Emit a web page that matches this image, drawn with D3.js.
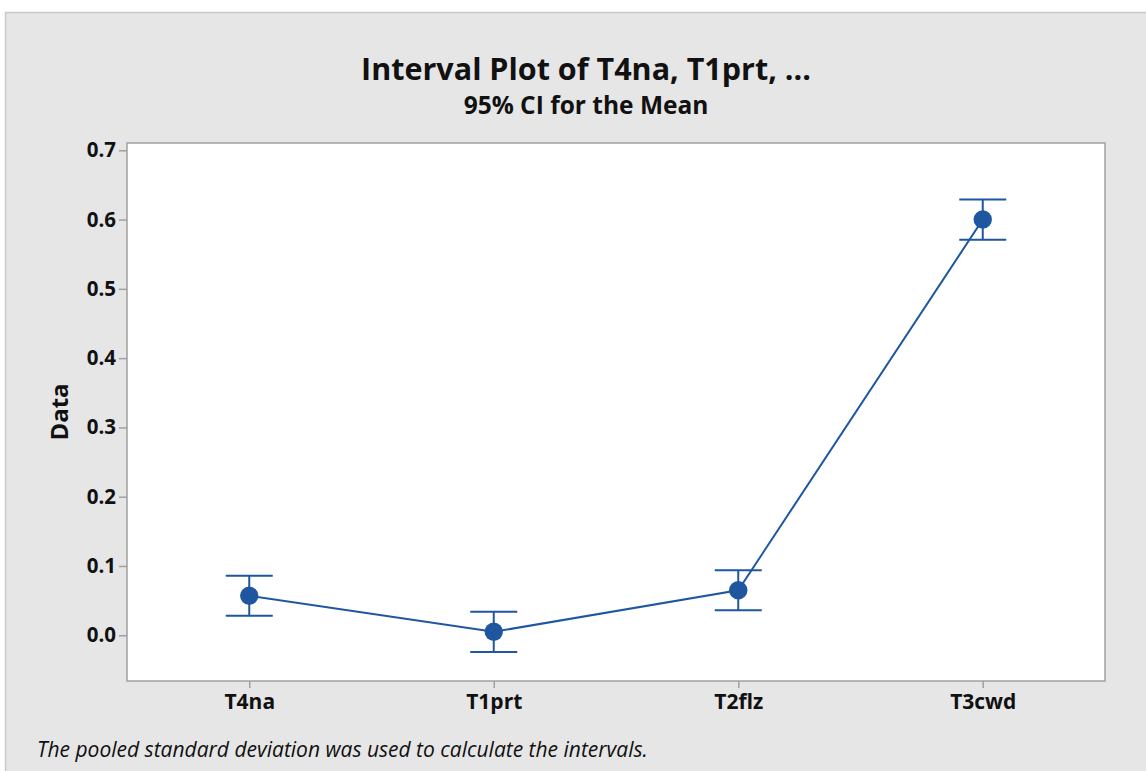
<!DOCTYPE html>
<html><head><meta charset="utf-8">
<script src="https://cdn.jsdelivr.net/npm/d3@7"></script>
<style>body{margin:0;background:#fff}svg{display:block}</style>
</head><body>
<script>
const categories = ["T4na", "T1prt", "T2flz", "T3cwd"];
const means = [0.057, 0.005, 0.065, 0.600];
const lower = [0.028, -0.024, 0.036, 0.571];
const upper = [0.086, 0.034, 0.094, 0.629];
const yTicks = [0.0, 0.1, 0.2, 0.3, 0.4, 0.5, 0.6, 0.7];
const title = "Interval Plot of T4na, T1prt, ...";
const subtitle = "95% CI for the Mean";
const yLabel = "Data";
const footnote = "The pooled standard deviation was used to calculate the intervals.";

const W = 1146, H = 771;
const font = "'Open Sans', 'Noto Sans', sans-serif";
const blue = "#1f56a0";
const svg = d3.select("body").append("svg").attr("width", W).attr("height", H);

svg.append("rect").attr("x", 5.5).attr("y", 12.5).attr("width", W).attr("height", H)
  .attr("fill", "#e6e6e6").attr("stroke", "#c9c9c9").attr("stroke-width", 1.5);

const m = {left: 127, right: 1105, top: 143, bottom: 681};
const x = d3.scalePoint().domain(categories).range([m.left, m.right]).padding(0.5);
const y = d3.scaleLinear().domain([-0.066, 0.7105]).range([m.bottom, m.top]);

svg.append("rect").attr("x", m.left).attr("y", m.top)
  .attr("width", m.right - m.left).attr("height", m.bottom - m.top)
  .attr("fill", "#fff").attr("stroke", "#a0a0a0").attr("stroke-width", 1.5);

const yAxis = svg.append("g").attr("transform", `translate(${m.left},0)`)
  .call(d3.axisLeft(y).tickValues(yTicks).tickFormat(d3.format(".1f")).tickSize(8).tickPadding(3));
const xAxis = svg.append("g").attr("transform", `translate(0,${m.bottom})`)
  .call(d3.axisBottom(x).tickSize(7).tickPadding(6));
[yAxis, xAxis].forEach(g => {
  g.select(".domain").remove();
  g.selectAll(".tick line").attr("stroke", "#a0a0a0").attr("stroke-width", 1.5);
  g.selectAll(".tick text").attr("fill", "#111").attr("font-family", font)
    .attr("font-weight", "bold");
});
yAxis.selectAll(".tick text").attr("font-size", 20.5);
xAxis.selectAll(".tick text").attr("font-size", 21);

const data = categories.map((c, i) => ({c, m: means[i], lo: lower[i], hi: upper[i]}));
const g = svg.append("g");
const capW = 23.5;
data.forEach(d => {
  const cx = x(d.c);
  g.append("line").attr("x1", cx).attr("x2", cx).attr("y1", y(d.hi)).attr("y2", y(d.lo))
    .attr("stroke", blue).attr("stroke-width", 2);
  [d.hi, d.lo].forEach(v => g.append("line").attr("x1", cx - capW).attr("x2", cx + capW)
    .attr("y1", y(v)).attr("y2", y(v)).attr("stroke", blue).attr("stroke-width", 2));
});
g.append("path").datum(data)
  .attr("d", d3.line().x(d => x(d.c)).y(d => y(d.m)))
  .attr("fill", "none").attr("stroke", blue).attr("stroke-width", 2);
g.selectAll("circle").data(data).join("circle")
  .attr("cx", d => x(d.c)).attr("cy", d => y(d.m)).attr("r", 9.2).attr("fill", blue);

svg.append("text").attr("x", 586).attr("y", 80).attr("text-anchor", "middle")
  .attr("font-family", font).attr("font-weight", "bold").attr("font-size", 30.5)
  .attr("fill", "#111").text(title);
svg.append("text").attr("x", 586).attr("y", 114).attr("text-anchor", "middle")
  .attr("font-family", font).attr("font-weight", "bold").attr("font-size", 24.5)
  .attr("fill", "#111").text(subtitle);
svg.append("text").attr("transform", `translate(68,412) rotate(-90)`).attr("text-anchor", "middle")
  .attr("font-family", font).attr("font-weight", "bold").attr("font-size", 24)
  .attr("fill", "#111").text(yLabel);
svg.append("text").attr("x", 37).attr("y", 757)
  .attr("font-family", font).attr("font-style", "italic").attr("font-size", 21)
  .attr("fill", "#111").text(footnote);
</script>
</body></html>
